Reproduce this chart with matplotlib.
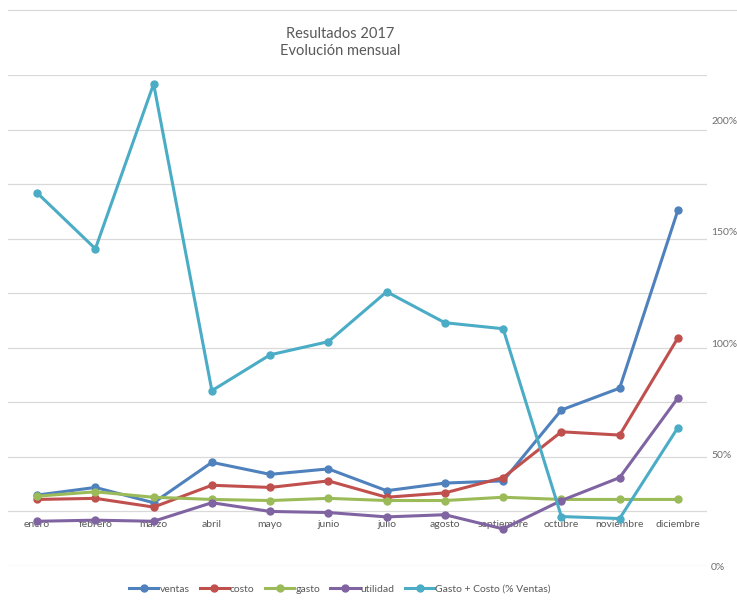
import matplotlib
matplotlib.use('Agg')
import matplotlib.pyplot as plt
from matplotlib.lines import Line2D
from matplotlib.ticker import FuncFormatter, MultipleLocator

# Monthly results, 2017 (thousands)
meses = ['enero', 'febrero', 'marzo', 'abril', 'mayo', 'junio', 'julio',
         'agosto', 'septiembre', 'octubre', 'noviembre', 'diciembre']
ventas = [15, 22, 8, 45, 34, 39, 19, 26, 28, 93, 113, 276]
costo = [11, 12, 4, 24, 22, 28, 13, 17, 31, 73, 70, 159]
gasto = [14, 18, 13, 11, 10, 12, 10, 10, 13, 11, 11, 11]
utilidad = [-9, -8, -9, 8, 0, -1, -5, -3, -16, 10, 31, 104]
# Gasto + Costo as a share of ventas (secondary axis)
gasto_costo_pct = [1.675, 1.424, 2.164, 0.787, 0.948, 1.007, 1.231, 1.092,
                   1.065, 0.222, 0.213, 0.621]

GRAY_TXT = '#595959'
GRID = '#D9D9D9'

plt.rcParams['font.family'] = ['Lato', 'DejaVu Sans']

fig = plt.figure(figsize=(7.37, 6.03), dpi=100)
ax = fig.add_axes([8 / 737, 1 - 566 / 603, 699 / 737, 491 / 603])
ax2 = ax.twinx()

x = list(range(len(meses)))
series = [
    ('ventas', ventas, '#4F81BD'),
    ('costo', costo, '#C0504D'),
    ('gasto', gasto, '#9BBB59'),
    ('utilidad', utilidad, '#8064A2'),
]
handles = []
for name, vals, col in series:
    h, = ax.plot(x, vals, color=col, lw=2.2, marker='o', ms=5,
                 label=name, solid_joinstyle='round')
    handles.append(h)

h, = ax2.plot(x, gasto_costo_pct, color='#4BACC6', lw=2.2, marker='o',
              ms=5, label='Gasto + Costo (% Ventas)', solid_joinstyle='round')
handles.append(h)

# primary axis: hidden values, gridlines every 50
ax.set_xlim(-0.5, 11.5)
ax.set_ylim(-50, 400)
ax.yaxis.set_major_locator(MultipleLocator(50))
ax.grid(axis='y', color=GRID, lw=0.9)
ax.set_axisbelow(True)
ax.tick_params(axis='y', left=False, labelleft=False)
for s in ax.spines.values():
    s.set_visible(False)
ax.spines['bottom'].set_position(('data', 0))
ax.set_xticks(x)
ax.set_xticklabels(meses)
ax.tick_params(axis='x', length=0, pad=6, labelsize=7.5, labelcolor=GRAY_TXT)

# secondary axis in percent
ax2.set_ylim(0, 2.204)
ax2.set_yticks([0, 0.5, 1.0, 1.5, 2.0])
ax2.yaxis.set_major_formatter(FuncFormatter(lambda v, p: f'{v * 100:.0f}%'))
ax2.tick_params(axis='y', length=0, pad=3, labelsize=7.5, labelcolor='#6E6E6E')
for s in ax2.spines.values():
    s.set_visible(False)

# thin rule along the top of the chart area
fig.add_artist(Line2D([8 / 737, 1], [1 - 10 / 603] * 2, color=GRID, lw=0.9))

fig.text(340 / 737, 1 - 34 / 603, 'Resultados 2017', ha='center', va='center',
         fontsize=10.5, color=GRAY_TXT)
fig.text(340 / 737, 1 - 51 / 603, 'Evolución mensual', ha='center', va='center',
         fontsize=10.5, color=GRAY_TXT)

leg = fig.legend(handles=handles, loc='center', ncol=5,
                 bbox_to_anchor=(340 / 737, 1 - 589 / 603), frameon=False,
                 fontsize=7.5, handlelength=2.8, handletextpad=0.1,
                 columnspacing=1.0, labelcolor=GRAY_TXT)

fig.savefig('out.png', dpi=100, facecolor='white')
plt.close(fig)
